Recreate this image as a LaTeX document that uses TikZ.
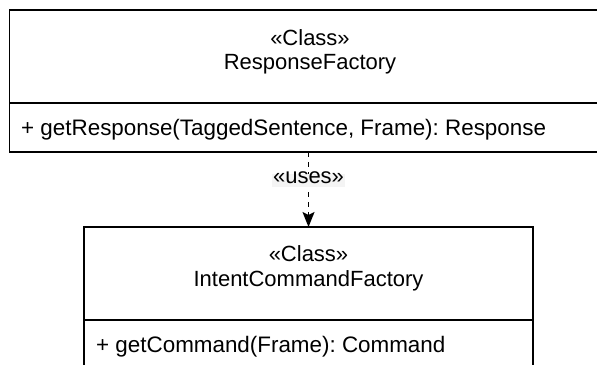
\documentclass[tikz,border=0pt]{standalone}
\usepackage{fontspec}
\setmainfont{Liberation Sans}
\usetikzlibrary{arrows.meta}
\definecolor{lblbg}{HTML}{F4F4F4}
\frenchspacing
\begin{document}
\begin{tikzpicture}[x=1bp,y=-1bp,
  every node/.style={font=\fontsize{22bp}{26bp}\selectfont, text=black},
  txt/.style={inner sep=0pt},
  optxt/.style={inner sep=0pt, font=\fontsize{22.4bp}{26bp}\selectfont},
  boxhead/.style={draw=black, line width=1.4bp, inner sep=0pt, outer sep=0pt, anchor=north west, minimum height=93bp},
  boxrow/.style={draw=black, line width=1.4bp, inner sep=0pt, outer sep=0pt, anchor=north west, minimum height=49bp},
  dep/.style={draw=black, line width=1.4bp, dash pattern=on 5bp off 5bp,
    -{Stealth[length=15bp, width=12bp, inset=3bp]}},
  lbl/.style={fill=lblbg, inner xsep=1bp, inner ysep=2bp, text depth=0.22em, text height=0.75em}
]
\useasboundingbox (0,0) rectangle (597,364);
\clip (0,0) rectangle (597,364);
\fill[white] (0,0) rectangle (597,364);

% ResponseFactory
\node[boxhead, minimum width=601bp] (rfh) at (9.5,10) {};
\node[boxrow, minimum width=601bp] (rfm) at (rfh.south west) {};
\node[txt, anchor=base] (rfs) at (310,45) {«Class»};
\node[txt, anchor=base] (rfn) at (310,69) {ResponseFactory};
\node[optxt, anchor=base west] (rfo) at (21,135) {+ getResponse(TaggedSentence, Frame): Response};

% IntentCommandFactory
\node[boxhead, minimum width=449bp] (ich) at (84,227) {};
\node[boxrow, minimum width=449bp] (icm) at (ich.south west) {};
\node[txt, anchor=base] (ics) at (308.5,261) {«Class»};
\node[txt, anchor=base] (icn) at (308.5,286) {IntentCommandFactory};
\node[optxt, anchor=base west] (ico) at (96,352) {+ getCommand(Frame): Command};

% dependency
\draw[dep] (ich.north |- rfm.south) -- node[lbl, pos=0.38] (uses) {«uses»} (ich.north);
\end{tikzpicture}
\end{document}
